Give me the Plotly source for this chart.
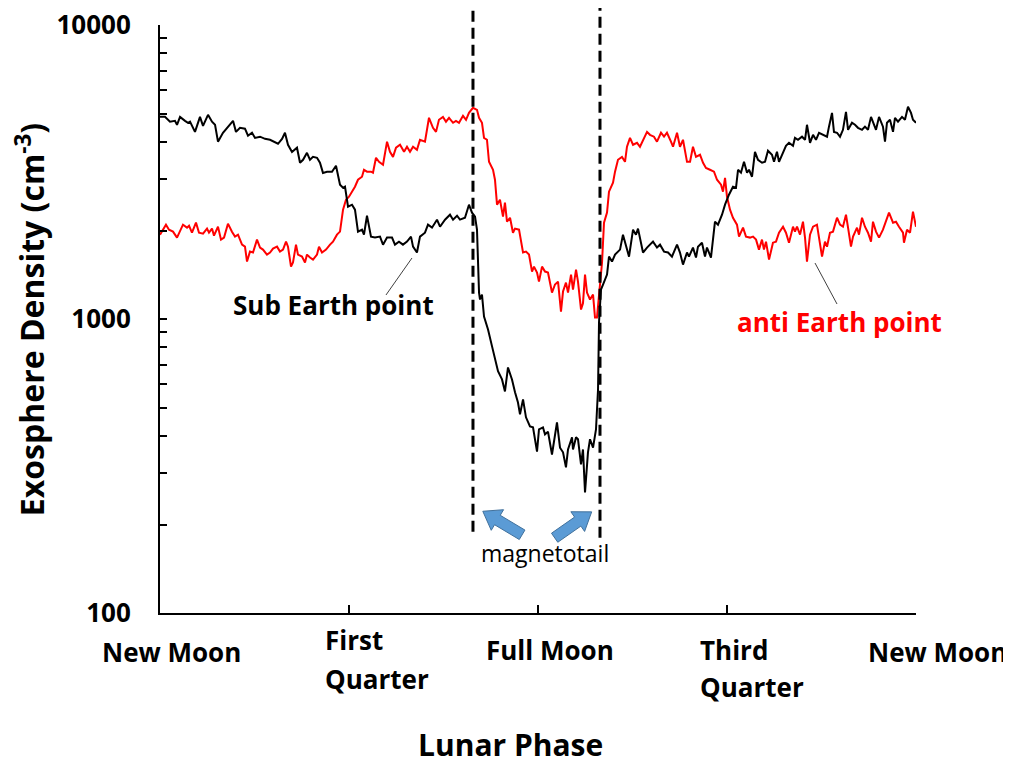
import math
import plotly.graph_objects as go

# Lunar phase as fraction of cycle (0 = New Moon, 0.5 = Full Moon, 1 = New Moon)
phase_sub = [0.000,0.0066,0.0132,0.0198,0.0225,0.0265,0.0331,0.0370,0.0397,0.0463,0.0529,0.0569,0.0635,0.0688,0.0728,0.0767,0.0833,0.0899,0.0966,0.1005,0.1058,0.1124,0.1164,0.1217,0.1257,0.1323,0.1389,0.1455,0.1521,0.1561,0.1614,0.1653,0.1693,0.1746,0.1812,0.1852,0.1892,0.1944,0.1984,0.2024,0.2077,0.2116,0.2156,0.2209,0.2275,0.2328,0.2381,0.2421,0.2447,0.2487,0.2540,0.2579,0.2619,0.2672,0.2698,0.2738,0.2791,0.2844,0.2910,0.2950,0.3003,0.3069,0.3108,0.3161,0.3214,0.3267,0.3320,0.3347,0.3399,0.3439,0.3505,0.3545,0.3598,0.3664,0.3704,0.3770,0.3836,0.3876,0.3929,0.3968,0.4034,0.4087,0.4127,0.4167,0.4193,0.4206,0.4220,0.4233,0.4259,0.4286,0.4339,0.4392,0.4431,0.4471,0.4524,0.4563,0.4603,0.4656,0.4696,0.4735,0.4762,0.4802,0.4841,0.4894,0.4934,0.4987,0.5013,0.5066,0.5093,0.5132,0.5185,0.5212,0.5251,0.5291,0.5331,0.5370,0.5397,0.5450,0.5463,0.5503,0.5529,0.5569,0.5595,0.5622,0.5661,0.5688,0.5728,0.5767,0.5794,0.5807,0.5833,0.5860,0.5913,0.5939,0.5979,0.6019,0.6085,0.6124,0.6177,0.6204,0.6257,0.6296,0.6323,0.6389,0.6442,0.6481,0.6521,0.6574,0.6614,0.6667,0.6720,0.6772,0.6839,0.6878,0.6918,0.6971,0.6997,0.7050,0.7090,0.7116,0.7169,0.7209,0.7235,0.7288,0.7341,0.7381,0.7434,0.7474,0.7526,0.7579,0.7619,0.7646,0.7685,0.7725,0.7765,0.7791,0.7831,0.7870,0.7910,0.7963,0.8003,0.8042,0.8095,0.8122,0.8161,0.8188,0.8241,0.8280,0.8320,0.8373,0.8399,0.8439,0.8492,0.8532,0.8558,0.8598,0.8638,0.8677,0.8717,0.8770,0.8823,0.8849,0.8889,0.8915,0.8955,0.8995,0.9034,0.9074,0.9101,0.9153,0.9193,0.9233,0.9286,0.9325,0.9365,0.9405,0.9431,0.9471,0.9511,0.9563,0.9590,0.9616,0.9656,0.9696,0.9722,0.9762,0.9815,0.9854,0.9894,0.9934,0.9960,1.0000]
dens_sub = [4870,4870,4690,4720,4577,4870,4720,4650,4690,4330,4870,4540,4950,4690,4580,4010,4300,4510,4720,4330,4470,4440,4200,4300,4130,4170,4100,4070,3975,3945,4100,4300,3914,3700,3825,3400,3480,3675,3480,3560,3535,3400,3140,3170,3170,3320,2862,2795,2820,2410,2448,2354,1982,2013,1936,2245,1906,1892,1906,1790,1892,1892,1790,1833,1790,1833,1906,1762,1683,1906,1966,2093,2045,2177,2060,2177,2263,2177,2245,2177,2210,2448,2300,2230,2013,1592,1230,1165,1211,1020,921,807,728,664,623,567,684,623,563,520,474,533,463,431,428,354,421,428,405,414,346,390,445,365,352,313,360,396,360,396,390,320,360,257,352,390,365,421,576,973,1259,1310,1416,1630,1568,1656,1722,1936,1750,1630,2013,1936,2030,1683,1750,1790,1833,1750,1790,1695,1683,1630,1790,1683,1531,1683,1630,1750,1618,1762,1818,1630,1750,1618,2143,2093,2263,2448,2647,2818,2795,3218,3145,3425,3145,3218,3047,3704,3480,3400,3425,3734,3619,3425,3704,3425,3704,3884,3975,3884,4130,4070,4170,4070,4577,3975,4232,4070,4300,4232,4170,4510,5025,4330,4300,4170,4401,5065,4401,4650,4577,4470,4401,4510,4401,4870,4690,4401,4870,4510,4010,4650,4759,4330,4835,4690,4870,4759,5270,5025,4759,4650]

phase_anti = [0.000,0.0040,0.0079,0.0119,0.0172,0.0225,0.0265,0.0304,0.0357,0.0384,0.0423,0.0476,0.0516,0.0569,0.0622,0.0648,0.0688,0.0714,0.0767,0.0807,0.0847,0.0899,0.0952,0.0992,0.1032,0.1085,0.1124,0.1151,0.1190,0.1230,0.1283,0.1323,0.1362,0.1415,0.1455,0.1495,0.1548,0.1587,0.1627,0.1667,0.1693,0.1733,0.1759,0.1799,0.1825,0.1878,0.1918,0.1944,0.1984,0.2024,0.2077,0.2103,0.2143,0.2196,0.2249,0.2288,0.2341,0.2381,0.2421,0.2460,0.2500,0.2540,0.2579,0.2619,0.2672,0.2698,0.2738,0.2791,0.2817,0.2857,0.2897,0.2950,0.3003,0.3042,0.3082,0.3122,0.3175,0.3228,0.3267,0.3307,0.3347,0.3399,0.3439,0.3505,0.3558,0.3611,0.3651,0.3690,0.3743,0.3783,0.3823,0.3876,0.3915,0.3955,0.4008,0.4048,0.4087,0.4140,0.4193,0.4220,0.4259,0.4286,0.4325,0.4352,0.4405,0.4431,0.4458,0.4497,0.4537,0.4563,0.4590,0.4630,0.4669,0.4696,0.4749,0.4802,0.4841,0.4881,0.4921,0.4947,0.4987,0.5013,0.5053,0.5093,0.5132,0.5185,0.5225,0.5265,0.5304,0.5331,0.5370,0.5397,0.5437,0.5463,0.5503,0.5529,0.5569,0.5595,0.5622,0.5648,0.5688,0.5728,0.5754,0.5780,0.5807,0.5847,0.5873,0.5913,0.5939,0.5992,0.6019,0.6058,0.6111,0.6151,0.6177,0.6217,0.6257,0.6310,0.6349,0.6389,0.6442,0.6481,0.6534,0.6574,0.6627,0.6667,0.6706,0.6759,0.6786,0.6839,0.6878,0.6918,0.6971,0.7011,0.7050,0.7090,0.7143,0.7183,0.7222,0.7275,0.7328,0.7368,0.7421,0.7447,0.7474,0.7500,0.7540,0.7579,0.7632,0.7659,0.7712,0.7751,0.7804,0.7844,0.7884,0.7923,0.7963,0.7989,0.8016,0.8056,0.8108,0.8148,0.8188,0.8241,0.8280,0.8320,0.8373,0.8399,0.8426,0.8466,0.8505,0.8532,0.8558,0.8598,0.8638,0.8690,0.8717,0.8757,0.8796,0.8823,0.8862,0.8902,0.8955,0.8995,0.9034,0.9074,0.9101,0.9140,0.9167,0.9220,0.9246,0.9286,0.9325,0.9365,0.9405,0.9431,0.9471,0.9511,0.9563,0.9603,0.9643,0.9696,0.9735,0.9775,0.9828,0.9841,0.9881,0.9921,0.9960,1.0000]
dens_anti = [1936,2013,2093,2013,1982,1892,1982,2093,2045,2077,1966,2127,1966,1951,2030,1966,2030,1921,2060,1862,1892,2110,1982,1906,1936,1790,1762,1568,1695,1683,1862,1750,1722,1656,1683,1735,1762,1695,1722,1833,1762,1507,1556,1790,1656,1630,1556,1656,1618,1592,1656,1762,1683,1722,1790,1833,1936,1982,2354,2545,2605,2710,2818,2976,3047,3218,3170,3170,3145,3535,3425,3347,4010,3704,3560,3825,3914,3704,3854,3704,3854,3764,4070,4010,4835,4470,4330,4759,4870,4690,4835,4650,4720,4650,4910,4759,5025,5226,5146,4835,4650,4130,4070,3425,3218,2976,2448,2545,2230,2487,2143,2210,1966,2030,2013,1683,1695,1656,1450,1507,1439,1340,1507,1450,1439,1230,1310,1340,1060,1240,1330,1230,1416,1259,1473,1340,1077,1130,1416,1230,1165,1211,1012,1012,1192,1556,2127,2300,2710,2907,3170,3480,3560,3425,3854,4130,3914,3975,3854,4070,4330,4232,4170,4010,4300,4170,4300,4010,3854,4300,3854,4070,3425,3425,3854,3560,3619,3400,3265,3218,3170,2976,2862,2710,3020,2605,2354,2210,2093,1906,2045,1906,1892,1906,1862,1722,1862,1722,1833,1592,1818,1833,1966,2060,1966,1818,2060,1982,2060,1936,2143,1892,1568,1936,2060,2093,1906,1630,1833,1762,1966,1982,2210,2093,2060,2263,2045,1762,1906,2045,1936,2210,2060,1966,1833,2143,1982,1892,2013,2143,2300,2127,2143,2060,1966,1818,2013,1966,2318,2060]

xtick_vals = [0, 0.25, 0.5, 0.75, 1.0]
xtick_lines = [["New Moon"], ["First", "Quarter"], ["Full Moon"], ["Third", "Quarter"], ["New Moon"]]
ytick_vals = [100, 1000, 10000]
ytick_text = ["100", "1000", "10000"]
magnetotail_bounds = [0.414, 0.582]

FONT = "Open Sans"
FIG_W, FIG_H = 1011, 761
M_L, M_R, M_T, M_B = 152, 103, 17, 156
PW = FIG_W - M_L - M_R
PH = FIG_H - M_T - M_B

fig = go.Figure()
fig.add_trace(go.Scatter(x=phase_anti, y=dens_anti, mode="lines",
                         line=dict(color="#FF0000", width=2), name="anti Earth point"))
fig.add_trace(go.Scatter(x=phase_sub, y=dens_sub, mode="lines",
                         line=dict(color="#000000", width=2), name="Sub Earth point"))

# dashed magnetotail boundaries
for xb, ybot in zip(magnetotail_bounds, [0.138, 0.128]):
    fig.add_shape(type="line", xref="x", yref="paper", x0=xb, x1=xb, y0=ybot, y1=1.034,
                  line=dict(color="black", width=3, dash="11px,6px"))

# leader lines from labels to curves
for x0, y0, x1, y1 in [(0.3333, 0.6037, 0.2989, 0.5408), (0.8664, 0.5952, 0.8955, 0.5255)]:
    fig.add_shape(type="line", xref="x", yref="paper", x0=x0, y0=y0, x1=x1, y1=y1,
                  line=dict(color="#404040", width=1))


def block_arrow(tail, tip, shaft_hw=5.5, head_hw=12.0, head_len=17.0):
    """tail/tip given as (paper x, paper y); returns an SVG path in paper coords."""
    tx, ty = tail[0] * PW, tail[1] * PH
    hx, hy = tip[0] * PW, tip[1] * PH
    dx, dy = hx - tx, hy - ty
    L = math.hypot(dx, dy)
    ux, uy = dx / L, dy / L
    nx, ny = -uy, ux
    bx, by = hx - ux * head_len, hy - uy * head_len
    pts = [
        (tx + nx * shaft_hw, ty + ny * shaft_hw),
        (bx + nx * shaft_hw, by + ny * shaft_hw),
        (bx + nx * head_hw, by + ny * head_hw),
        (hx, hy),
        (bx - nx * head_hw, by - ny * head_hw),
        (bx - nx * shaft_hw, by - ny * shaft_hw),
        (tx - nx * shaft_hw, ty - ny * shaft_hw),
    ]
    return "M " + " L ".join(f"{px / PW:.5f},{py / PH:.5f}" for px, py in pts) + " Z"


for tail, tip in [((0.479, 0.133), (0.427, 0.173)), ((0.522, 0.128), (0.571, 0.172))]:
    fig.add_shape(type="path", xref="paper", yref="paper", path=block_arrow(tail, tip),
                  fillcolor="#5B9BD5", line=dict(color="#41719C", width=1))

ann = []
# x tick labels
label_cfg = [  # (xshift, y centers below axis in px, anchor)
    (11, [39], "center"),
    (-26, [27, 66], "left"),
    (12, [37], "center"),
    (-29, [37, 74], "left"),
    (21, [39], "center"),
]
for xv, lines, (xs, ycs, anc) in zip(xtick_vals, xtick_lines, label_cfg):
    for txt, yc in zip(lines, ycs):
        ann.append(dict(x=xv, y=0, xref="x", yref="paper", text=txt, showarrow=False,
                        xanchor=anc, yanchor="middle", xshift=xs, yshift=-yc,
                        font=dict(family=FONT, size=26, color="black", weight="bold")))

ann += [
    dict(x=0, y=0.498, xref="paper", yref="paper", text="Exosphere Density (cm<sup>-3</sup>)",
         textangle=-90, showarrow=False, xanchor="center", yanchor="middle", xshift=-130,
         font=dict(family=FONT, size=32, color="black", weight="bold")),
    dict(x=0.463, y=0, xref="paper", yref="paper", text="Lunar Phase", showarrow=False,
         xanchor="center", yanchor="middle", yshift=-131,
         font=dict(family=FONT, size=30, color="black", weight="bold")),
    dict(x=0.229, y=3.049, xref="x", yref="y", text="Sub Earth point", showarrow=False,
         xanchor="center", yanchor="middle",
         font=dict(family=FONT, size=26, color="black", weight="bold")),
    dict(x=0.899, y=2.9915, xref="x", yref="y", text="anti Earth point", showarrow=False,
         xanchor="center", yanchor="middle",
         font=dict(family=FONT, size=26, color="#FF0000", weight="bold")),
    dict(x=0.509, y=0.102, xref="paper", yref="paper", text="magnetotail", showarrow=False,
         xanchor="center", yanchor="middle",
         font=dict(family=FONT, size=23, color="black")),
]

fig.update_layout(
    width=FIG_W, height=FIG_H,
    margin=dict(l=M_L, r=M_R, t=M_T, b=M_B, autoexpand=False),
    paper_bgcolor="white", plot_bgcolor="white",
    showlegend=False,
    annotations=ann,
    xaxis=dict(range=[0, 1], showgrid=False, zeroline=False, showline=True, automargin=False,
               linecolor="black", linewidth=2, ticks="inside", ticklen=8, tickwidth=2,
               tickcolor="black", tickvals=xtick_vals[1:], showticklabels=False),
    yaxis=dict(type="log", range=[2, 4], showgrid=False, zeroline=False, showline=True,
               automargin=False, ticklabeloverflow="allow",
               linecolor="black", linewidth=2, ticks="inside", ticklen=7, tickwidth=2,
               tickcolor="black", tickvals=ytick_vals, ticktext=ytick_text,
               ticklabelstandoff=22,
               tickfont=dict(family=FONT, size=26, color="black", weight="bold"),
               minor=dict(ticks="inside", ticklen=7, tickwidth=2, tickcolor="black",
                          tickvals=[2e2,3e2,4e2,5e2,6e2,7e2,8e2,9e2,2e3,3e3,4e3,5e3,6e3,7e3,8e3,9e3])),
)

fig.write_html("out.html")
